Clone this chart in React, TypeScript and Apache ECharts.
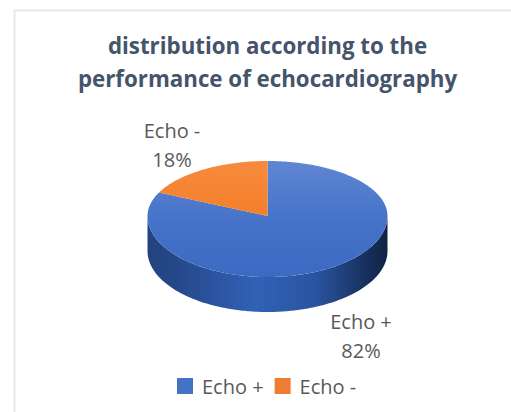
import React, { useEffect, useRef } from "react";
import * as echarts from "echarts";

const categories = ["Echo +", "Echo -"];
const percentages = [82, 18];
const sliceColors = ["#4472c4", "#ed7d31"];
const titleLines = ["distribution according to the", "performance of echocardiography"];

const WIDTH = 511;
const HEIGHT = 412;
const FONT = '"Open Sans", "Noto Sans", sans-serif';
const TEXT_GREY = "#595959";

// Geometry of the tilted disc; the near half of the ellipse is slightly deeper than the far one.
const DISC = { cx: 267.5, cy: 216, rx: 120, ryFar: 55, ryNear: 61, depth: 35 };

const total = percentages.reduce((a, b) => a + b, 0);
const startFraction = (i: number) =>
  percentages.slice(0, i).reduce((a, b) => a + b, 0) / total;

// Rim point for a clockwise angle measured from twelve o'clock.
const rimPoint = (angle: number, dy = 0): [number, number] => {
  const c = Math.cos(angle);
  const ry = c >= 0 ? DISC.ryFar : DISC.ryNear;
  return [DISC.cx + DISC.rx * Math.sin(angle), DISC.cy - ry * c + dy];
};

const arcPoints = (from: number, to: number, dy = 0) => {
  const steps = Math.max(2, Math.ceil(Math.abs(to - from) / 0.015));
  const pts: [number, number][] = [];
  for (let k = 0; k <= steps; k++) pts.push(rimPoint(from + ((to - from) * k) / steps, dy));
  return pts;
};

const sideFill = new echarts.graphic.LinearGradient(0, 0, 1, 0, [
  { offset: 0, color: "#23437c" },
  { offset: 0.12, color: "#25488a" },
  { offset: 0.45, color: "#3161b6" },
  { offset: 0.7, color: "#2a54a0" },
  { offset: 0.9, color: "#183261" },
  { offset: 1, color: "#0f2342" },
]);

const topFills = [
  new echarts.graphic.LinearGradient(0, 0, 0, 1, [
    { offset: 0, color: "#5f86d2" },
    { offset: 0.5, color: "#4673c9" },
    { offset: 1, color: "#3c6ac2" },
  ]),
  new echarts.graphic.LinearGradient(0, 0, 0, 1, [
    { offset: 0, color: "#f68b3d" },
    { offset: 1, color: "#f57f2a" },
  ]),
];

const sliceSeries = (i: number) => ({
  type: "custom",
  name: categories[i],
  coordinateSystem: "none",
  itemStyle: { color: sliceColors[i] },
  data: [percentages[i]],
  renderItem: (_params: unknown, api: any) => {
    const value = api.value(0) as number;
    const from = startFraction(i) * Math.PI * 2;
    const to = from + (value / total) * Math.PI * 2;
    const children: any[] = [];

    // Visible wall: only the part of the slice facing the viewer (right to left through six o'clock).
    const wallFrom = Math.max(from, Math.PI / 2);
    const wallTo = Math.min(to, (Math.PI * 3) / 2);
    if (wallTo > wallFrom) {
      children.push({
        type: "polygon",
        shape: {
          points: [
            ...arcPoints(wallFrom, wallTo),
            ...arcPoints(wallTo, wallFrom, DISC.depth),
          ],
        },
        style: { fill: sideFill },
      });
    }

    children.push({
      type: "polygon",
      shape: { points: [[DISC.cx, DISC.cy], ...arcPoints(from, to)] },
      style: { fill: topFills[i] },
    });

    return { type: "group", children };
  },
});

const dataLabel = (i: number, x: number, y: number) => ({
  type: "text",
  x,
  y,
  style: {
    text: `${categories[i]}\n${percentages[i]}%`,
    align: "center",
    verticalAlign: "middle",
    fontFamily: FONT,
    fontSize: 20,
    lineHeight: 29,
    fill: TEXT_GREY,
  },
});

export default function App() {
  const ref = useRef<HTMLDivElement>(null);

  useEffect(() => {
    const chart = echarts.init(ref.current!, undefined, { renderer: "svg" });
    chart.setOption({
      animation: false,
      backgroundColor: "#ffffff",
      title: {
        text: titleLines.join("\n"),
        left: 262.5,
        top: 24,
        textAlign: "center",
        textStyle: {
          fontFamily: FONT,
          fontSize: 22.3,
          fontWeight: 700,
          color: "#44546a",
          lineHeight: 33,
        },
      },
      legend: {
        left: 172,
        top: 371,
        icon: "rect",
        itemWidth: 16,
        itemHeight: 16,
        itemGap: 11,
        data: categories,
        textStyle: { fontFamily: FONT, fontSize: 20, color: TEXT_GREY, padding: [0, 0, 0, 4] },
      },
      graphic: [
        // Frame of the chart area: only its top and left edges fall inside the canvas.
        {
          type: "polyline",
          silent: true,
          z: -1,
          shape: { points: [[14.5, HEIGHT], [14.5, 10.5], [WIDTH, 10.5]] },
          style: { fill: "none", stroke: "#e8e8e8", lineWidth: 2 },
        },
        dataLabel(1, 172, 145),
        dataLabel(0, 361, 336),
      ],
      series: categories.map((_, i) => sliceSeries(i)),
    });
    return () => chart.dispose();
  }, []);

  return (
    <div
      ref={ref}
      style={{ position: "fixed", left: 0, top: 0, width: WIDTH, height: HEIGHT }}
    />
  );
}
